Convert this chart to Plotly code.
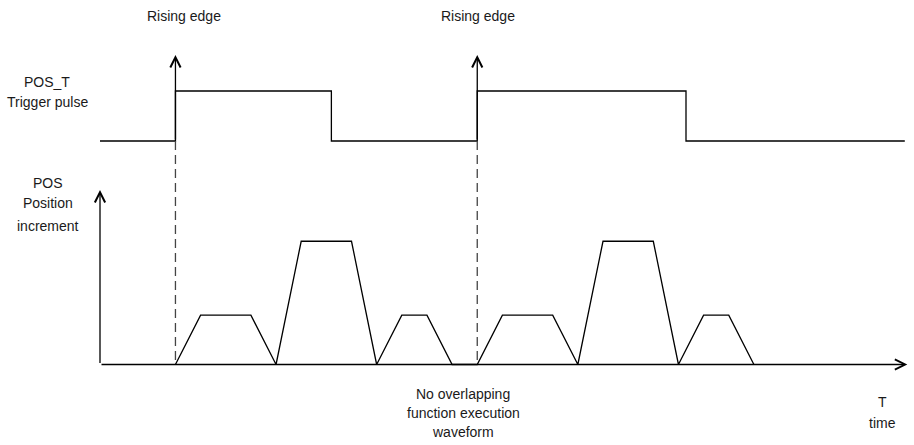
import plotly.graph_objects as go

# ---------------- data ----------------
# POS_T trigger pulse (time units, level 0 = low, 1 = high)
pulse_t = [0, 3, 3, 9.2, 9.2, 15, 15, 23.3, 23.3, 32]
pulse_level = [0, 0, 1, 1, 0, 0, 1, 1, 0, 0]

# POS position increment waveform (time units, relative height)
pos_t = [3, 4, 6, 7, 8, 10, 11, 12, 13, 14, 15, 16, 18, 19, 20, 22, 23, 24, 25, 26]
pos_val = [0, 1, 1, 0, 2.5, 2.5, 0, 1, 1, 0, 0, 1, 1, 0, 2.5, 2.5, 0, 1, 1, 0]

rising_edges = [3, 15]
rising_labels = ["Rising edge", "Rising edge"]
top_label = ["POS_T", "Trigger pulse"]
left_label = ["POS", "Position", "increment"]
bottom_label = ["No overlapping", "function execution", "waveform"]
time_label = ["T", "time"]

T_END = 32.1        # end of time axis arrow
POS_AXIS_TOP = 3.54  # top of POS axis arrow
EDGE_ARROW_TOP = 1.72  # top of rising-edge arrows (pulse units)

# ---------------- layout geometry (pixels) ----------------
W, H = 914, 445
X0_PX, X_UNIT = 100.0, 25.15
YB0_PX, YB_UNIT = 364.5, 49.3
YT0_PX, YT_UNIT = 141.0, 50.0

x_range = [(0 - X0_PX) / X_UNIT, (W - X0_PX) / X_UNIT]
yb_range = [(YB0_PX - H) / YB_UNIT, YB0_PX / YB_UNIT]
yt_range = [(YT0_PX - H) / YT_UNIT, YT0_PX / YT_UNIT]
baseline_in_top = (YT0_PX - YB0_PX) / YT_UNIT

LINE = dict(color="black", width=1.3)
FONT = dict(family="Liberation Sans, Arial, sans-serif", size=14, color="#1a1a1a")

fig = go.Figure()

# pulse
fig.add_trace(go.Scatter(x=pulse_t, y=pulse_level, mode="lines", line=LINE,
                         yaxis="y2", hoverinfo="skip", showlegend=False))
# dashed markers at rising edges
for t in rising_edges:
    fig.add_trace(go.Scatter(x=[t, t], y=[0, baseline_in_top], mode="lines",
                             line=dict(color="#444444", width=1.3, dash="9px,5px"),
                             yaxis="y2", hoverinfo="skip", showlegend=False))
# position increment
fig.add_trace(go.Scatter(x=pos_t, y=pos_val, mode="lines", line=LINE,
                         yaxis="y", hoverinfo="skip", showlegend=False))

ann = []
ARW = dict(showarrow=True, arrowhead=5, arrowsize=1.55, arrowwidth=1.3,
           arrowcolor="black", text="", standoff=0, startstandoff=0)
# axis arrows
ann.append(dict(x=0, y=POS_AXIS_TOP, ax=0, ay=0, xref="x", yref="y", axref="x", ayref="y", **ARW))
ann.append(dict(x=T_END, y=0, ax=0, ay=0, xref="x", yref="y", axref="x", ayref="y", **ARW))
for t in rising_edges:
    ann.append(dict(x=t, y=EDGE_ARROW_TOP, ax=t, ay=0, xref="x", yref="y2",
                    axref="x", ayref="y2", **ARW))


def txt(s, px, py):
    return dict(text=s, x=px / W, y=1 - py / H, xref="paper", yref="paper",
                xanchor="center", yanchor="middle", showarrow=False, font=FONT)


ann.append(txt(rising_labels[0], 184, 16))
ann.append(txt(rising_labels[1], 478, 16))
for s, py in zip(top_label, [82, 102]):
    ann.append(txt(s, 47, py))
for s, py in zip(left_label, [183, 203, 226]):
    ann.append(txt(s, 48, py))
for s, py in zip(bottom_label, [394, 413, 432]):
    ann.append(txt(s, 463, py))
for s, py in zip(time_label, [402, 423]):
    ann.append(txt(s, 882, py))

fig.update_layout(
    width=W, height=H,
    margin=dict(l=0, r=0, t=0, b=0),
    paper_bgcolor="white", plot_bgcolor="white",
    xaxis=dict(range=x_range, visible=False, fixedrange=True),
    yaxis=dict(range=yb_range, visible=False, fixedrange=True),
    yaxis2=dict(range=yt_range, visible=False, overlaying="y", fixedrange=True),
    annotations=ann,
    showlegend=False,
)

fig.write_html(
    "out.html",
    config={"displayModeBar": False},
    post_script="document.body.style.margin='0';document.body.style.overflow='hidden';",
)
